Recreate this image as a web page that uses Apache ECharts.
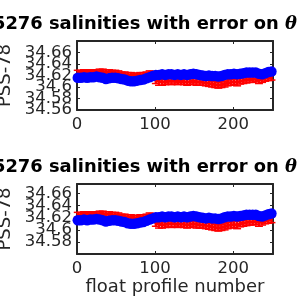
<!DOCTYPE html>
<html><head><meta charset="utf-8">
<script src="https://cdn.jsdelivr.net/npm/echarts@6/dist/echarts.min.js"></script>
<style>html,body{margin:0;padding:0;background:#fff}#c{width:300px;height:300px}</style>
</head><body><div id="c"></div>
<script>
const titleText = '5276 salinities with error on ';
const titleSym = 'θ';
const yName = 'PSS-78';
const xName = 'float profile number';
const xTicks = [0, 100, 200];
const profiles = [1,5,9,13,17,21,25,29,33,37,41,45,49,53,57,61,65,69,73,77,81,85,89,93,97,101,105,109,113,117,121,125,129,133,137,141,145,149,153,157,161,165,169,173,177,181,185,189,193,197,201,205,209,213,217,221,225,229,233,237,241,245,249];
const salRed = [34.625,34.625,34.626,34.625,34.626,34.625,34.626,34.627,34.627,34.626,34.626,34.625,34.625,34.624,34.622,34.622,34.621,34.621,34.620,34.620,34.621,34.621,34.622,34.624,34.623,34.611,34.610,34.608,34.609,34.610,34.610,34.610,34.609,34.610,34.609,34.608,34.609,34.610,34.609,34.608,34.608,34.607,34.606,34.605,34.604,34.603,34.604,34.605,34.607,34.608,34.609,34.608,34.610,34.611,34.612,34.613,34.613,34.614,34.612,34.613,34.615,34.616,34.617];
const salRedErr = [0.004,0.004,0.004,0.004,0.004,0.004,0.004,0.004,0.004,0.004,0.004,0.004,0.004,0.004,0.004,0.004,0.004,0.004,0.004,0.004,0.004,0.004,0.004,0.004,0.004,0.005,0.007,0.005,0.005,0.005,0.006,0.005,0.005,0.005,0.005,0.005,0.005,0.005,0.006,0.005,0.005,0.005,0.005,0.005,0.005,0.005,0.005,0.005,0.005,0.005,0.005,0.006,0.005,0.005,0.005,0.005,0.005,0.005,0.006,0.005,0.005,0.005,0.005];
const salBlue = [34.616,34.616,34.617,34.616,34.617,34.617,34.618,34.617,34.616,34.614,34.615,34.616,34.616,34.615,34.614,34.613,34.611,34.610,34.610,34.611,34.612,34.613,34.615,34.617,34.619,34.621,34.621,34.622,34.621,34.622,34.622,34.621,34.622,34.621,34.622,34.621,34.622,34.623,34.622,34.621,34.620,34.619,34.620,34.619,34.619,34.618,34.619,34.621,34.622,34.622,34.623,34.622,34.623,34.624,34.625,34.625,34.625,34.625,34.623,34.622,34.624,34.626,34.627];

const chart = echarts.init(document.getElementById('c'), null, {renderer:'canvas'});
const FONT = 'DejaVu Sans';
const AX = '#262626';
const grids = [
  {left:77, right:27, top:41, height:69, outerBoundsMode:'none', containLabel:false},
  {left:77, right:27, top:184, height:70, outerBoundsMode:'none', containLabel:false}
];
// [min, max, interval or null (auto nice ticks)]
const yRanges = [[34.5599, 34.68, null], [34.56, 34.676, 0.02]];

function errRender(params, api) {
  const x = api.value(0), y = api.value(1), e = api.value(2);
  const hi = api.coord([x, y + e]);
  const lo = api.coord([x, y - e]);
  const hw = 4;
  const st = {stroke:'#ff0000', lineWidth:2.5};
  const cs = {stroke:'#ff0000', lineWidth:1.5};
  return {type:'group', children:[
    {type:'line', shape:{x1:hi[0], y1:hi[1], x2:lo[0], y2:lo[1]}, style:st},
    {type:'line', shape:{x1:hi[0]-hw, y1:hi[1], x2:hi[0]+hw, y2:hi[1]}, style:cs},
    {type:'line', shape:{x1:lo[0]-hw, y1:lo[1], x2:lo[0]+hw, y2:lo[1]}, style:cs}
  ]};
}

const xAxis = [], yAxis = [], series = [], title = [];
grids.forEach((g, i) => {
  const lbl = {fontFamily:FONT, fontSize:16.5, color:AX};
  xAxis.push({type:'value', gridIndex:i, min:0, max:251, interval:100, position:'bottom',
    axisLine:{show:true, onZero:false, lineStyle:{color:AX, width:2}},
    axisTick:{show:true, inside:true, length:3, lineStyle:{color:AX}},
    axisLabel:{...lbl, margin:6, showMaxLabel:false, formatter:v => xTicks.includes(v) ? String(v) : ''},
    splitLine:{show:false},
    name: i === 1 ? xName : '', nameLocation:'middle', nameGap:24,
    nameTextStyle:{fontFamily:FONT, fontSize:18, color:AX}});
  xAxis.push({type:'value', gridIndex:i, min:0, max:251, interval:100, position:'top',
    axisLine:{show:true, onZero:false, lineStyle:{color:AX, width:2}},
    axisTick:{show:true, inside:true, length:3, lineStyle:{color:AX}},
    axisLabel:{show:false}, splitLine:{show:false}});
  const r = yRanges[i];
  const yBase = {type:'value', gridIndex:i, min:r[0], max:r[1]};
  if (r[2]) yBase.interval = r[2]; else yBase.splitNumber = 6;
  yAxis.push({...yBase, position:'left',
    axisLine:{show:true, onZero:false, lineStyle:{color:AX, width:2}},
    axisTick:{show:true, inside:true, length:3, lineStyle:{color:AX}},
    axisLabel:{...lbl, lineHeight:8, margin:5, showMaxLabel:false, showMinLabel:false,
      formatter:v => String(parseFloat(v.toFixed(2)))},
    splitLine:{show:false},
    name:yName, nameLocation:'middle', nameGap:50,
    nameTextStyle:{fontFamily:FONT, fontSize:18, color:AX}});
  yAxis.push({...yBase, position:'right',
    axisLine:{show:true, onZero:false, lineStyle:{color:AX, width:2}},
    axisTick:{show:true, inside:true, length:3, lineStyle:{color:AX}},
    axisLabel:{show:false}, splitLine:{show:false}});
  const xi = i * 2, yi = i * 2;
  series.push({type:'custom', xAxisIndex:xi, yAxisIndex:yi, renderItem:errRender,
    data: profiles.map((p, k) => [p, salRed[k], salRedErr[k]]), z:2, silent:true});
  series.push({type:'line', xAxisIndex:xi, yAxisIndex:yi, showSymbol:false,
    lineStyle:{color:'#ff0000', width:3}, data: profiles.map((p, k) => [p, salRed[k]]), z:3, silent:true});
  series.push({type:'scatter', xAxisIndex:xi, yAxisIndex:yi, symbol:'circle', symbolSize:10.5, clip:false,
    itemStyle:{color:'#0000ff', opacity:1}, data: profiles.map((p, k) => [p, salBlue[k]]), z:4, silent:true});
  title.push({text:'{a|' + titleText + '}{b|' + titleSym + '}', right:3, top: i === 0 ? 15 : 158, padding:0,
    textStyle:{rich:{
      a:{fontFamily:FONT, fontWeight:'bold', fontSize:17.9, color:'#000'},
      b:{fontFamily:'DejaVu Serif', fontStyle:'italic', fontSize:17.9, color:'#000'}}}});
});

chart.setOption({animation:false, backgroundColor:'#fff', title, grid:grids, xAxis, yAxis, series});
</script></body></html>
